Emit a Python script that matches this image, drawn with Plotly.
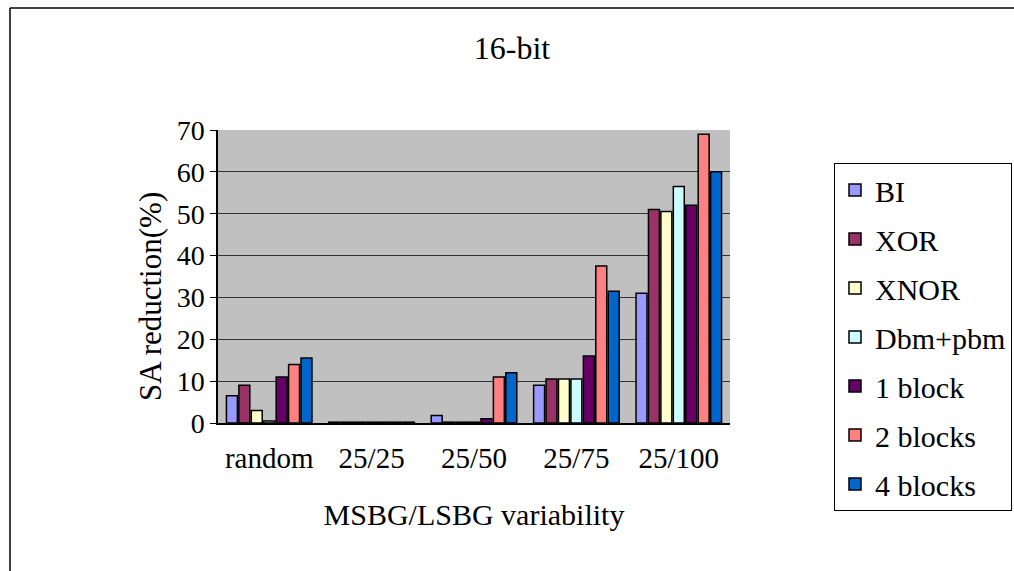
import plotly.graph_objects as go

categories = ["random", "25/25", "25/50", "25/75", "25/100"]
series_names = ["BI", "XOR", "XNOR", "Dbm+pbm", "1 block", "2 blocks", "4 blocks"]
bi = [6.5, 0.2, 1.8, 9.0, 31.0]
xor = [9.0, 0.2, 0.2, 10.5, 51.0]
xnor = [3.0, 0.2, 0.2, 10.5, 50.5]
dbm_pbm = [0.5, 0.2, 0.2, 10.5, 56.5]
one_block = [11.0, 0.2, 1.0, 16.0, 52.0]
two_blocks = [14.0, 0.2, 11.0, 37.5, 69.0]
four_blocks = [15.5, 0.2, 12.0, 31.5, 60.0]
series_values = [bi, xor, xnor, dbm_pbm, one_block, two_blocks, four_blocks]
colors = ["#9999FF", "#993366", "#FFFFCC", "#CCFFFF", "#660066", "#FF8080", "#0066CC"]
y_ticks = [0, 10, 20, 30, 40, 50, 60, 70]

FONT = "Liberation Serif"

fig = go.Figure()
for name, vals, col in zip(series_names, series_values, colors):
    fig.add_trace(go.Bar(
        x=categories, y=vals, name=name, legendgroup=name,
        marker=dict(color=col, line=dict(color="black", width=1.5)),
    ))

# plot area in pixels
L, R, T, B = 218, 730, 130, 423
W, H = 1014, 571

def px(xp):
    return (xp - L) / (R - L)

def py(yp):
    return (B - yp) / (B - T)

fig.update_layout(
    width=W, height=H,
    margin=dict(l=L, r=W - R, t=T, b=H - B, autoexpand=False),
    paper_bgcolor="white",
    plot_bgcolor="#C0C0C0",
    barmode="group",
    bargap=0.15,
    bargroupgap=0.12,
    font=dict(family=FONT, size=28, color="black"),
    title=dict(text="16-bit", x=512 / W, xref="container", xanchor="center",
               y=1 - 48 / H, yref="container", yanchor="middle",
               font=dict(family=FONT, size=32, color="black")),
    legend=dict(
        x=834 / W, y=1 - 163 / H, xref="container", yref="container",
        xanchor="left", yanchor="top",
        bordercolor="black", borderwidth=1, bgcolor="white",
        font=dict(family=FONT, size=30, color="black"),
        tracegroupgap=7, traceorder="grouped",
        maxheight=400,
    ),
    showlegend=True,
    annotations=[dict(
        text="SA reduction(%)", textangle=-90, showarrow=False,
        xref="paper", yref="paper", x=px(150), y=py(297),
        xanchor="center", yanchor="middle",
        font=dict(family=FONT, size=31, color="black"),
    )],
)

fig.update_yaxes(
    range=[0, 70], tickvals=y_ticks, showgrid=True, gridcolor="#333333", gridwidth=1,
    showline=True, linecolor="black", linewidth=1.5, mirror=False,
    ticks="outside", ticklen=6, tickcolor="black",
    tickfont=dict(family=FONT, size=28),
    zeroline=False,
)
fig.update_xaxes(
    showline=True, linecolor="black", linewidth=1.5,
    ticks="outside", ticklen=8, tickcolor="rgba(0,0,0,0)",
    tickfont=dict(family=FONT, size=29),
    title=dict(text="MSBG/LSBG variability", font=dict(family=FONT, size=30), standoff=31),
)

# outer chart-area frame (top and left edges)
fig.add_shape(type="line", xref="paper", yref="paper",
              x0=px(10), x1=px(1014), y0=py(8), y1=py(8),
              line=dict(color="black", width=1.5))
fig.add_shape(type="line", xref="paper", yref="paper",
              x0=px(10), x1=px(10), y0=py(8), y1=py(571),
              line=dict(color="black", width=1.5))

fig.write_html("out.html")
